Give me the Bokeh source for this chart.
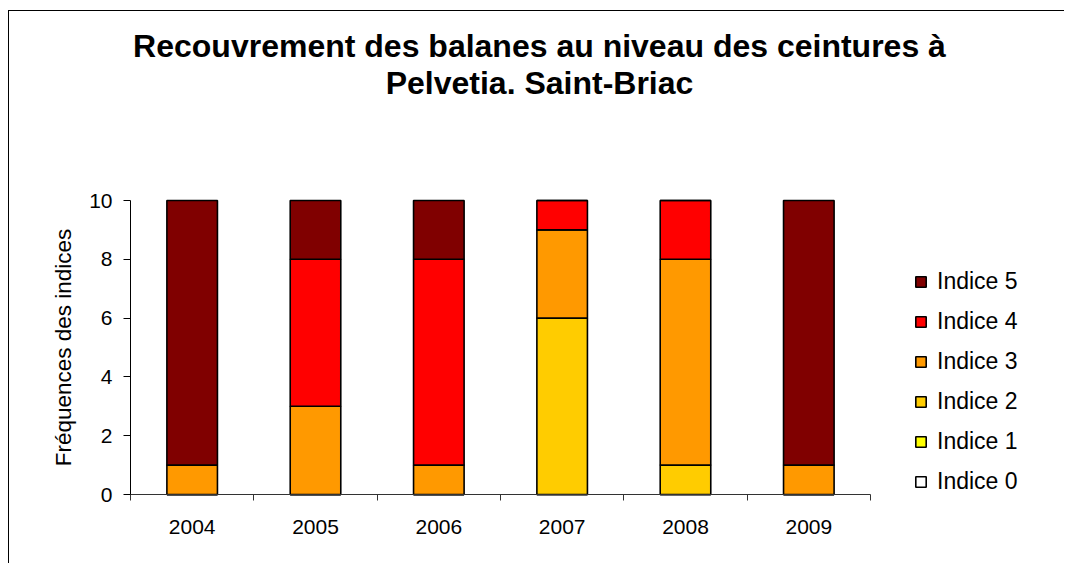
import math
from bokeh.plotting import figure
from bokeh.models import Range1d, FixedTicker, Legend, LegendItem, Label, ColumnDataSource
from bokeh.embed import file_html
from bokeh.resources import INLINE

years = ["2004", "2005", "2006", "2007", "2008", "2009"]
indice0 = [0, 0, 0, 0, 0, 0]
indice1 = [0, 0, 0, 0, 0, 0]
indice2 = [0, 0, 0, 6, 1, 0]
indice3 = [1, 3, 1, 3, 7, 1]
indice4 = [0, 5, 7, 1, 2, 0]
indice5 = [9, 2, 2, 0, 0, 9]

series_names = ["Indice 0", "Indice 1", "Indice 2", "Indice 3", "Indice 4", "Indice 5"]
colors = ["#FFFFFF", "#FFFF00", "#FFCC00", "#FF9900", "#FF0000", "#800000"]
title_lines = ["Recouvrement des balanes au niveau des ceintures à", "Pelvetia. Saint-Briac"]
y_label = "Fréquences des indices"
y_ticks = [0, 2, 4, 6, 8, 10]

FONT = "Liberation Sans"

# canvas geometry (page pixels) and scale of the chart
W, H = 1056, 553
CANVAS_LEFT, CANVAS_TOP = 9, 11
ORIGIN_X, ORIGIN_Y = 130, 494          # page position of (0, 0)
PX_PER_CAT = 123.33
PX_PER_UNIT = 29.4

def dx(px):   # page x -> data x
    return (px - ORIGIN_X) / PX_PER_CAT

def dy(py):   # page y -> data y
    return (ORIGIN_Y - py) / PX_PER_UNIT

xpos = [i + 0.5 for i in range(len(years))]
source = ColumnDataSource(dict(x=xpos, **{n: v for n, v in zip(series_names,
                                [indice0, indice1, indice2, indice3, indice4, indice5])}))

p = figure(width=W, height=H, output_backend="svg", toolbar_location=None,
           x_range=Range1d(dx(CANVAS_LEFT), dx(CANVAS_LEFT + W)),
           y_range=Range1d(dy(CANVAS_TOP + H), dy(CANVAS_TOP)),
           min_border_left=0, min_border_right=0, min_border_top=0, min_border_bottom=0)
p.styles = {"border-left": "1px solid black", "border-top": "1px solid black",
            "margin-top": "10px", "margin-left": "8px"}
p.outline_line_color = None
p.xgrid.visible = False
p.ygrid.visible = False

renderers = p.vbar_stack(series_names, x="x", width=0.41, source=source,
                         fill_color=colors, line_color="black", line_width=1.6)

# x axis: labels centred, ticks between categories
p.xaxis.fixed_location = 0
p.xaxis.bounds = (0, len(years))
p.xaxis.ticker = FixedTicker(ticks=xpos, minor_ticks=list(range(len(years) + 1)))
p.xaxis.major_label_overrides = {x: y for x, y in zip(xpos, years)}
p.xaxis.major_tick_out = 0
p.xaxis.major_tick_in = 0
p.xaxis.minor_tick_out = 6
p.xaxis.minor_tick_in = 0
p.xaxis.minor_tick_line_color = "#333333"
p.xaxis.axis_line_color = "#333333"
p.xaxis.major_label_standoff = 19
p.xaxis.major_label_text_font = FONT
p.xaxis.major_label_text_font_size = "21px"
p.xaxis.major_label_text_color = "black"

# y axis
p.yaxis.fixed_location = 0
p.yaxis.bounds = (y_ticks[0], y_ticks[-1])
p.yaxis.ticker = FixedTicker(ticks=y_ticks)
p.yaxis.minor_tick_line_color = None
p.yaxis.major_tick_out = 7
p.yaxis.major_tick_in = 0
p.yaxis.major_label_standoff = 11
p.yaxis.major_label_text_font = FONT
p.yaxis.major_label_text_font_size = "21px"
p.yaxis.major_label_text_color = "black"
p.yaxis.axis_line_color = "black"
p.yaxis.major_tick_line_color = "black"

p.add_layout(Label(x=dx(63), y=(y_ticks[0] + y_ticks[-1]) / 2, text=y_label, angle=math.pi / 2,
                   text_align="center", text_baseline="middle",
                   text_font=FONT, text_font_size="22.5px", text_color="black"))

# legend
items = [LegendItem(label=n, renderers=[r]) for n, r in zip(series_names, renderers)][::-1]
legend = Legend(items=items, location=(914 - CANVAS_LEFT, CANVAS_TOP + H - 494.5),
                orientation="vertical",
                glyph_width=13, glyph_height=13, label_standoff=10,
                label_height=22, spacing=13, padding=0, margin=0,
                border_line_color=None, background_fill_alpha=0,
                label_text_font=FONT, label_text_font_size="23px", label_text_color="black")
p.add_layout(legend, "center")

# title (two centred lines)
for txt, py in zip(title_lines, [45, 82]):
    p.add_layout(Label(x=dx(539), y=dy(py), text=txt,
                       text_align="center", text_baseline="middle",
                       text_font=FONT, text_font_size="32px", text_font_style="bold",
                       text_color="black"))

open("out.html", "w").write(file_html(p, INLINE))
